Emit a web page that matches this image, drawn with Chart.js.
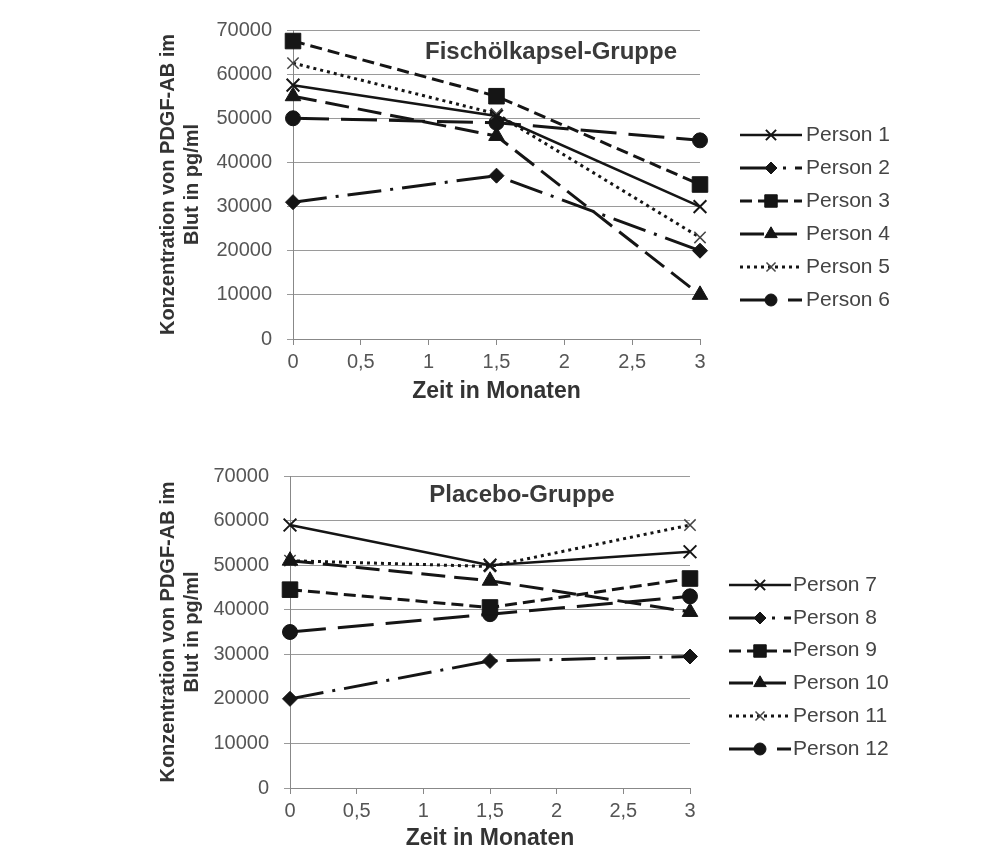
<!DOCTYPE html>
<html>
<head>
<meta charset="utf-8">
<script src="https://cdn.jsdelivr.net/npm/chart.js@4.4.1/dist/chart.umd.min.js"></script>
<style>
html,body{margin:0;padding:0;background:#fff;overflow:hidden;width:985px;height:863px}
#wrap{position:relative;width:985px;height:863px}
.panel{position:absolute;left:0;width:985px}
.panel canvas{display:block}
.ptitle{position:absolute;font:bold 24px "Liberation Sans",Arial,sans-serif;color:#3a3a3a;transform:translate(-50%,-50%);white-space:nowrap}
</style>
</head>
<body>
<div id="wrap">
  <div class="panel" style="top:0;height:430px">
    <canvas id="c1" width="985" height="430"></canvas>
    <div class="ptitle" id="t1" style="left:551px;top:51px"></div>
  </div>
  <div class="panel" style="top:446px;height:417px">
    <canvas id="c2" width="985" height="417"></canvas>
    <div class="ptitle" id="t2" style="left:522px;top:48px"></div>
  </div>
</div>
<script>
// ---------------- DATA ----------------
const months = [0, 1.5, 3];
const xTickLabels = ['0', '0,5', '1', '1,5', '2', '2,5', '3'];
const yTickLabels = ['0', '10000', '20000', '30000', '40000', '50000', '60000', '70000'];
const yAxisTitle = ['Konzentration von PDGF-AB im', 'Blut in pg/ml'];
const xAxisTitle = 'Zeit in Monaten';
const titleFisch = 'Fischölkapsel-Gruppe';
const titlePlacebo = 'Placebo-Gruppe';

const fischLabels = ['Person 1', 'Person 2', 'Person 3', 'Person 4', 'Person 5', 'Person 6'];
const person1 = [57500, 50500, 30000];
const person2 = [31000, 37000, 20000];
const person3 = [67500, 55000, 35000];
const person4 = [55000, 46000, 10000];
const person5 = [62500, 51000, 23000];
const person6 = [50000, 49000, 45000];

const placeboLabels = ['Person 7', 'Person 8', 'Person 9', 'Person 10', 'Person 11', 'Person 12'];
const person7 = [59000, 50000, 53000];
const person8 = [20000, 28500, 29500];
const person9 = [44500, 40500, 47000];
const person10 = [51000, 46500, 39500];
const person11 = [51000, 49700, 59000];
const person12 = [35000, 39000, 43000];

// ---------------- STYLES ----------------
const FONT = '"Liberation Sans", Arial, sans-serif';
Chart.defaults.font.family = FONT;
const INK = '#151515';
const STYLES = [
  {dash: [], width: 2.5, point: 'crossRot', radius: 9, pbw: 2, pc: INK},
  {dash: [34, 9, 3, 9], width: 3, point: 'rectRot', radius: 7.5, pbw: 1, pc: INK},
  {dash: [12, 6], width: 3, point: 'rect', radius: 11, pbw: 1, pc: INK},
  {dash: [24, 9], width: 3, point: 'triangle', radius: 9, pbw: 1, pc: INK},
  {dash: [3, 4], width: 3, point: 'crossRot', radius: 8, pbw: 1.5, pc: '#444'},
  {dash: [36, 12], width: 3, point: 'circle', radius: 7.5, pbw: 1, pc: INK}
];

function makeSample(st) {
  const c = document.createElement('canvas');
  c.width = 62; c.height = 22;
  const g = c.getContext('2d');
  g.strokeStyle = INK;
  g.lineWidth = st.width;
  g.setLineDash(st.dash);
  g.beginPath(); g.moveTo(0, 11); g.lineTo(62, 11); g.stroke();
  g.setLineDash([]);
  g.fillStyle = INK;
  g.strokeStyle = st.pc;
  g.lineWidth = st.pbw;
  if (Chart.helpers && Chart.helpers.drawPoint) {
    Chart.helpers.drawPoint(g, {pointStyle: st.point, radius: st.radius * 0.8, rotation: 0, borderWidth: st.pbw}, 31, 11);
  }
  return c;
}
const samples = STYLES.map(makeSample);

// legend drawn beside the plot, from the datasets' own labels
const sideLegend = {
  id: 'sideLegend',
  afterDraw(chart, args, opts) {
    const ctx = chart.ctx;
    ctx.save();
    ctx.font = opts.size + 'px ' + FONT;
    ctx.fillStyle = opts.color;
    ctx.textBaseline = 'middle';
    ctx.textAlign = 'left';
    chart.data.datasets.forEach((ds, i) => {
      const y = opts.y0 + i * opts.dy;
      ctx.drawImage(samples[i], opts.x0, Math.round(y - 11));
      ctx.fillText(ds.label, opts.textX, y);
    });
    ctx.restore();
  }
};

function build(canvasId, labels, series, geom) {
  const datasets = series.map((vals, i) => {
    const st = STYLES[i];
    return {
      label: labels[i],
      data: months.map((m, j) => ({x: m, y: vals[j]})),
      borderColor: INK,
      backgroundColor: INK,
      borderWidth: st.width,
      borderDash: st.dash,
      pointStyle: st.point,
      pointRadius: st.radius,
      pointHoverRadius: st.radius,
      pointBackgroundColor: INK,
      pointBorderColor: st.pc,
      pointBorderWidth: st.pbw,
      tension: 0,
      fill: false,
      clip: false
    };
  });
  const padB = geom.padB;
  return new Chart(document.getElementById(canvasId), {
    type: 'line',
    data: {datasets},
    plugins: [sideLegend],
    options: {
      responsive: false,
      animation: false,
      layout: {padding: {left: 150, top: geom.top, right: 985 - geom.right, bottom: padB}},
      plugins: {
        title: {display: false},
        tooltip: {enabled: false},
        legend: {display: false},
        sideLegend: {x0: geom.legX, textX: geom.legTextX, y0: geom.legY0, dy: geom.legDy, size: 21, color: '#444'}
      },
      scales: {
        x: {
          type: 'linear',
          min: 0, max: 3,
          ticks: {
            stepSize: 0.5, autoSkip: false, maxRotation: 0,
            font: {size: 20}, color: '#555', padding: 5,
            callback: (v, i) => xTickLabels[i]
          },
          grid: {display: true, drawOnChartArea: false, drawTicks: true, tickLength: 6, color: '#888'},
          border: {display: true, color: '#888', width: 1},
          title: {display: true, text: xAxisTitle, font: {size: 23, weight: 'bold'}, color: '#333', padding: {top: 0, bottom: geom.xTitlePad}},
          afterFit: s => { s.height = (geom.h - padB) - geom.bottom; }
        },
        y: {
          type: 'linear',
          min: 0, max: 70000,
          ticks: {
            stepSize: 10000, font: {size: 20}, color: '#555', padding: 15,
            callback: (v, i) => yTickLabels[i]
          },
          grid: {color: '#9a9a9a', lineWidth: 1, tickLength: 6},
          border: {display: true, color: '#888', width: 1},
          title: {display: true, text: yAxisTitle, font: {size: 20, weight: 'bold'}, color: '#333', padding: {top: 6, bottom: 0}},
          afterFit: s => { s.width = geom.left - 150; }
        }
      }
    }
  });
}

document.getElementById('t1').textContent = titleFisch;
document.getElementById('t2').textContent = titlePlacebo;

build('c1', fischLabels, [person1, person2, person3, person4, person5, person6],
  {left: 293, right: 700, top: 30, bottom: 339, h: 430, padB: 25, xTitlePad: 0,
   legX: 740, legTextX: 806, legY0: 135, legDy: 33});
build('c2', placeboLabels, [person7, person8, person9, person10, person11, person12],
  {left: 290, right: 690, top: 30, bottom: 342, h: 417, padB: 4, xTitlePad: 7,
   legX: 729, legTextX: 793, legY0: 139, legDy: 32.8});
</script>
</body>
</html>
